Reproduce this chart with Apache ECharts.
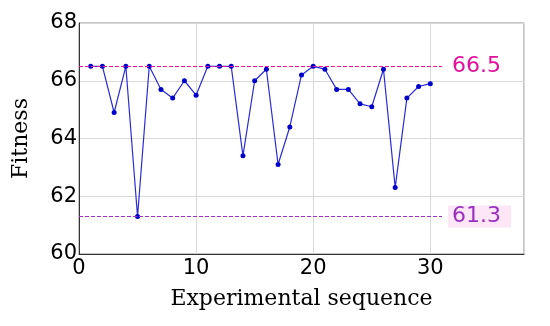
<!DOCTYPE html>
<html><head><meta charset="utf-8">
<script src="https://cdn.jsdelivr.net/npm/echarts@6/dist/echarts.min.js"></script>
<style>html,body{margin:0;padding:0;background:#fff}#c{width:550px;height:326px}</style>
</head><body><div id="c"></div>
<script>
const sequence = [1,2,3,4,5,6,7,8,9,10,11,12,13,14,15,16,17,18,19,20,21,22,23,24,25,26,27,28,29,30];
const fitness = [66.5,66.5,64.9,66.5,61.3,66.5,65.7,65.4,66.0,65.5,66.5,66.5,66.5,63.4,66.0,66.4,63.1,64.4,66.2,66.5,66.4,65.7,65.7,65.2,65.1,66.4,62.3,65.4,65.8,65.9];
const maxLevel = 66.5;
const minLevel = 61.3;
const refEndX = 31;
const xTicks = [0,10,20,30];
const yTicks = [60,62,64,66,68];

const chart = echarts.init(document.getElementById('c'), null, {renderer:'canvas'});
const data = sequence.map((x,i)=>[x,fitness[i]]);
chart.setOption({
  animation:false,
  grid:{left:79,right:26,top:23,bottom:72,show:true,borderColor:'#8a8a8a',borderWidth:1,outerBoundsMode:'none',containLabel:false},
  xAxis:{type:'value',min:0,max:38,interval:10,
    name:'Experimental sequence',nameLocation:'middle',nameGap:34,
    nameTextStyle:{fontFamily:'DejaVu Serif',fontSize:22,color:'#000'},
    axisLine:{show:true,lineStyle:{color:'#333',width:1}},
    axisTick:{show:false},
    axisLabel:{fontFamily:'DejaVu Sans',fontSize:21,color:'#000',margin:4,showMaxLabel:false},
    splitLine:{show:true,lineStyle:{color:'#d9d9d9',width:1}}},
  yAxis:{type:'value',min:60,max:68,interval:2,
    name:'Fitness',nameLocation:'middle',nameGap:47,nameRotate:90,
    nameTextStyle:{fontFamily:'DejaVu Serif',fontSize:22,color:'#000'},
    axisLine:{show:true,lineStyle:{color:'#333',width:1}},
    axisTick:{show:false},
    axisLabel:{fontFamily:'DejaVu Sans',fontSize:21,color:'#000',margin:2},
    splitLine:{show:true,lineStyle:{color:'#d9d9d9',width:1}}},
  series:[{
    type:'line',data:data,symbol:'circle',symbolSize:5,
    lineStyle:{color:'#2a2ad8',width:1.2},itemStyle:{color:'#0000cc'},
    markLine:{silent:true,symbol:['none','none'],
      data:[
        [{coord:[0,maxLevel],lineStyle:{color:'#f0139f',type:'dashed',width:1},
          label:{show:true,position:'end',distance:10,formatter:String(maxLevel),color:'#e0109c',fontFamily:'DejaVu Sans',fontSize:22}},
         {coord:[refEndX,maxLevel]}],
        [{coord:[0,minLevel],lineStyle:{color:'#a030d0',type:'dashed',width:1},
          label:{show:true,position:'end',distance:6,formatter:String(minLevel),color:'#9a30c0',fontFamily:'DejaVu Sans',fontSize:22,
            backgroundColor:'#fde6f6',padding:[0,10,0,4]}},
         {coord:[refEndX,minLevel]}]
      ]}
  }]
});
</script></body></html>
